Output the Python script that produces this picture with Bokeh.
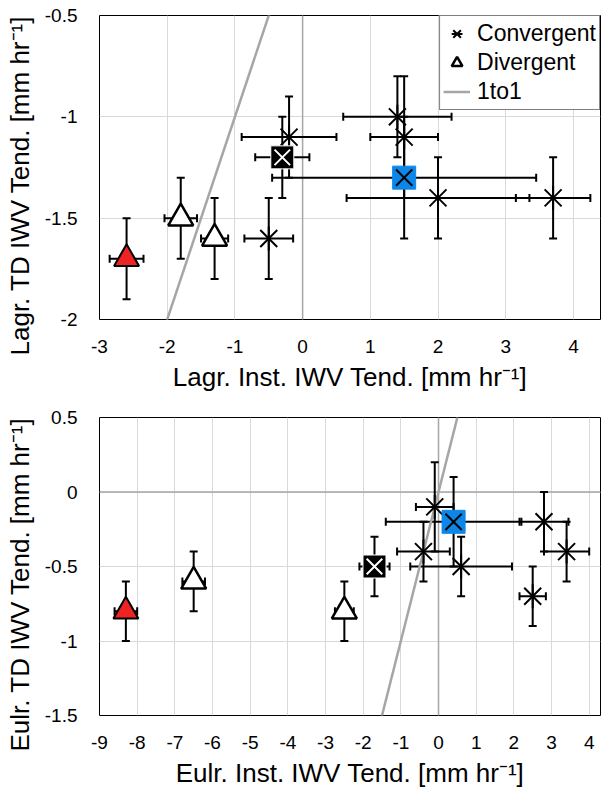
import numpy as np
from bokeh.plotting import figure
from bokeh.models import ColumnDataSource, Whisker, TeeHead, Span, Legend, LegendItem, Title
from bokeh.layouts import column
from bokeh.embed import file_html
from bokeh.resources import INLINE

FONT = "Liberation Sans"

# ---------------- data: Lagrangian (top panel) ----------------
lag_conv_x = [-0.5, -0.2, 1.4, 1.5, 2.0, 3.7]
lag_conv_y = [-1.6, -1.1, -1.0, -1.1, -1.4, -1.4]
lag_conv_xerr = [0.36, 0.7, 0.8, 0.5, 1.35, 0.55]
lag_conv_yerr = [0.2, 0.2, 0.2, 0.3, 0.2, 0.2]

lag_div_x = [-1.8, -1.3]
lag_div_y = [-1.5, -1.6]
lag_div_xerr = [0.24, 0.2]
lag_div_yerr = [0.2, 0.2]

lag_black_x, lag_black_y, lag_black_xerr, lag_black_yerr = [-0.3], [-1.2], [0.4], [0.2]
lag_blue_x, lag_blue_y, lag_blue_xerr, lag_blue_yerr = [1.5], [-1.3], [1.95], [0.3]
lag_red_x, lag_red_y, lag_red_xerr, lag_red_yerr = [-2.6], [-1.7], [0.25], [0.2]

# ---------------- data: Eulerian (bottom panel) ----------------
eul_conv_x = [-0.1, -0.4, 0.6, 2.8, 3.4, 2.5]
eul_conv_y = [-0.1, -0.4, -0.5, -0.2, -0.4, -0.7]
eul_conv_xerr = [0.5, 0.7, 1.35, 0.65, 0.6, 0.35]
eul_conv_yerr = [0.3, 0.2, 0.2, 0.2, 0.2, 0.2]

eul_div_x = [-6.5, -2.5]
eul_div_y = [-0.6, -0.8]
eul_div_xerr = [0.3, 0.25]
eul_div_yerr = [0.2, 0.2]

eul_black_x, eul_black_y, eul_black_xerr, eul_black_yerr = [-1.7], [-0.5], [0.4], [0.2]
eul_blue_x, eul_blue_y, eul_blue_xerr, eul_blue_yerr = [0.4], [-0.2], [1.8], [0.3]
eul_red_x, eul_red_y, eul_red_xerr, eul_red_yerr = [-8.3], [-0.8], [0.3], [0.2]

# ---------------- axes ----------------
top_x_range = (-3, 4.4)
top_y_range = (-2, -0.5)
top_x_ticks = [-3, -2, -1, 0, 1, 2, 3, 4]
top_x_labels = ["-3", "-2", "-1", "0", "1", "2", "3", "4"]
top_y_ticks = [-2, -1.5, -1, -0.5]
top_y_labels = ["-2", "-1.5", "-1", "-0.5"]

bot_x_range = (-9, 4.3)
bot_y_range = (-1.5, 0.5)
bot_x_ticks = [-9, -8, -7, -6, -5, -4, -3, -2, -1, 0, 1, 2, 3, 4]
bot_x_labels = ["-9", "-8", "-7", "-6", "-5", "-4", "-3", "-2", "-1", "0", "1", "2", "3", "4"]
bot_y_ticks = [-1.5, -1, -0.5, 0, 0.5]
bot_y_labels = ["-1.5", "-1", "-0.5", "0", "0.5"]

top_xlabel = "Lagr. Inst. IWV Tend. [mm hr\u207b\u00b9]"
top_ylabel = "Lagr. TD IWV Tend. [mm hr\u207b\u00b9]"
bot_xlabel = "Eulr. Inst. IWV Tend. [mm hr\u207b\u00b9]"
bot_ylabel = "Eulr. TD IWV Tend. [mm hr\u207b\u00b9]"

BLUE = "#0C86E8"
RED = "#EE2424"
GRAY_LINE = "#A6A6A6"


def make_src(x, y, xe, ye):
    x = np.asarray(x, float); y = np.asarray(y, float)
    xe = np.asarray(xe, float); ye = np.asarray(ye, float)
    return ColumnDataSource(dict(x=x, y=y, xl=x - xe, xu=x + xe, yl=y - ye, yu=y + ye))


def add_err(p, src):
    for dim, base, lo, hi in (("height", "x", "yl", "yu"), ("width", "y", "xl", "xu")):
        w = Whisker(source=src, base=base, lower=lo, upper=hi, dimension=dim,
                    line_color="black", line_width=2,
                    upper_head=TeeHead(size=8, line_width=2, line_color="black"),
                    lower_head=TeeHead(size=8, line_width=2, line_color="black"))
        p.add_layout(w)


def make_fig(height, top_border, xr, yr, xt, xl, yt, yl, xlabel, ylabel):
    p = figure(width=603, height=height, x_range=xr, y_range=yr,
               output_backend="svg", toolbar_location=None,
               min_border_left=99, min_border_right=3, min_border_top=top_border,
               min_border_bottom=0)
    p.background_fill_color = "white"
    p.border_fill_color = "white"
    p.outline_line_color = "black"
    p.outline_line_width = 1
    p.xaxis.ticker = xt
    p.yaxis.ticker = yt
    p.xaxis.major_label_overrides = dict(zip(xt, xl))
    p.yaxis.major_label_overrides = dict(zip(yt, yl))
    p.xaxis.axis_label = xlabel
    for ax in (p.xaxis[0], p.yaxis[0]):
        ax.axis_line_color = None
        ax.major_tick_line_color = None
        ax.minor_tick_line_color = None
        ax.major_label_text_font = FONT
        ax.major_label_text_font_size = "19px"
        ax.major_label_text_color = "black"
        ax.axis_label_text_font = FONT
        ax.axis_label_text_font_size = "26px"
        ax.axis_label_text_font_style = "normal"
        ax.axis_label_text_color = "black"
    p.xaxis.major_label_standoff = 14
    p.xaxis.axis_label_standoff = 6
    p.yaxis.major_label_standoff = 16
    # y-axis title placed on the left, shifted down like the reference
    t = Title(text=ylabel, align="left", offset=-36, vertical_align="top",
              standoff=9, text_font=FONT, text_font_size="26px",
              text_font_style="normal", text_color="black")
    p.add_layout(t, "left")
    p.grid.grid_line_color = "#D9D9D9"
    p.grid.grid_line_width = 1
    return p


def populate(p, conv, div, black, blue, red, xr, zero_h):
    p.add_layout(Span(location=0, dimension="height", line_color=GRAY_LINE,
                      line_width=1.5, level="underlay"))
    if zero_h:
        p.add_layout(Span(location=0, dimension="width", line_color=GRAY_LINE,
                          line_width=1.5, level="underlay"))
    ref = np.array(xr, float)
    r_line = p.line(ref, ref, line_color=GRAY_LINE, line_width=2.5)

    srcs = [make_src(*g) for g in (conv, div, black, blue, red)]
    for s in srcs:
        add_err(p, s)
    s_conv, s_div, s_black, s_blue, s_red = srcs

    r_x = p.scatter("x", "y", source=s_conv, marker="x", size=24,
                    line_color="black", line_width=2)
    r_dash = p.scatter("x", "y", source=s_conv, marker="dash", size=24, angle=np.pi / 2,
                       line_color="black", line_width=2)
    r_tri = p.scatter("x", "y", source=s_div, marker="triangle", size=25,
                      fill_color="white", line_color="black", line_width=2.5)
    p.scatter("x", "y", source=s_red, marker="triangle", size=25,
              fill_color=RED, line_color="black", line_width=2)
    p.scatter("x", "y", source=s_black, marker="square", size=23,
              fill_color="black", line_color="white", line_width=1)
    p.scatter("x", "y", source=s_black, marker="x", size=22,
              line_color="white", line_width=2)
    p.scatter("x", "y", source=s_blue, marker="square", size=23,
              fill_color=BLUE, line_color=BLUE, line_width=1)
    p.scatter("x", "y", source=s_blue, marker="x", size=23,
              line_color="black", line_width=2)
    return r_x, r_dash, r_tri, r_line


p1 = make_fig(394, 15, top_x_range, top_y_range, top_x_ticks, top_x_labels,
              top_y_ticks, top_y_labels, top_xlabel, top_ylabel)
r_x, r_dash, r_tri, r_line = populate(
    p1,
    (lag_conv_x, lag_conv_y, lag_conv_xerr, lag_conv_yerr),
    (lag_div_x, lag_div_y, lag_div_xerr, lag_div_yerr),
    (lag_black_x, lag_black_y, lag_black_xerr, lag_black_yerr),
    (lag_blue_x, lag_blue_y, lag_blue_xerr, lag_blue_yerr),
    (lag_red_x, lag_red_y, lag_red_xerr, lag_red_yerr),
    top_x_range, False)

legend = Legend(items=[LegendItem(label="Convergent", renderers=[r_x, r_dash]),
                       LegendItem(label="Divergent", renderers=[r_tri]),
                       LegendItem(label="1to1", renderers=[r_line])],
                location="top_right", margin=0, padding=3, spacing=0,
                glyph_width=27, glyph_height=29, label_standoff=7,
                label_text_font=FONT, label_text_font_size="23px",
                label_text_color="black",
                border_line_color="black", border_line_width=1,
                background_fill_color="white", background_fill_alpha=1.0)
p1.add_layout(legend)

p2 = make_fig(396, 23, bot_x_range, bot_y_range, bot_x_ticks, bot_x_labels,
              bot_y_ticks, bot_y_labels, bot_xlabel, bot_ylabel)
populate(
    p2,
    (eul_conv_x, eul_conv_y, eul_conv_xerr, eul_conv_yerr),
    (eul_div_x, eul_div_y, eul_div_xerr, eul_div_yerr),
    (eul_black_x, eul_black_y, eul_black_xerr, eul_black_yerr),
    (eul_blue_x, eul_blue_y, eul_blue_xerr, eul_blue_yerr),
    (eul_red_x, eul_red_y, eul_red_xerr, eul_red_yerr),
    bot_x_range, True)

layout = column(p1, p2, spacing=0)
open("out.html", "w").write(file_html(layout, INLINE))
